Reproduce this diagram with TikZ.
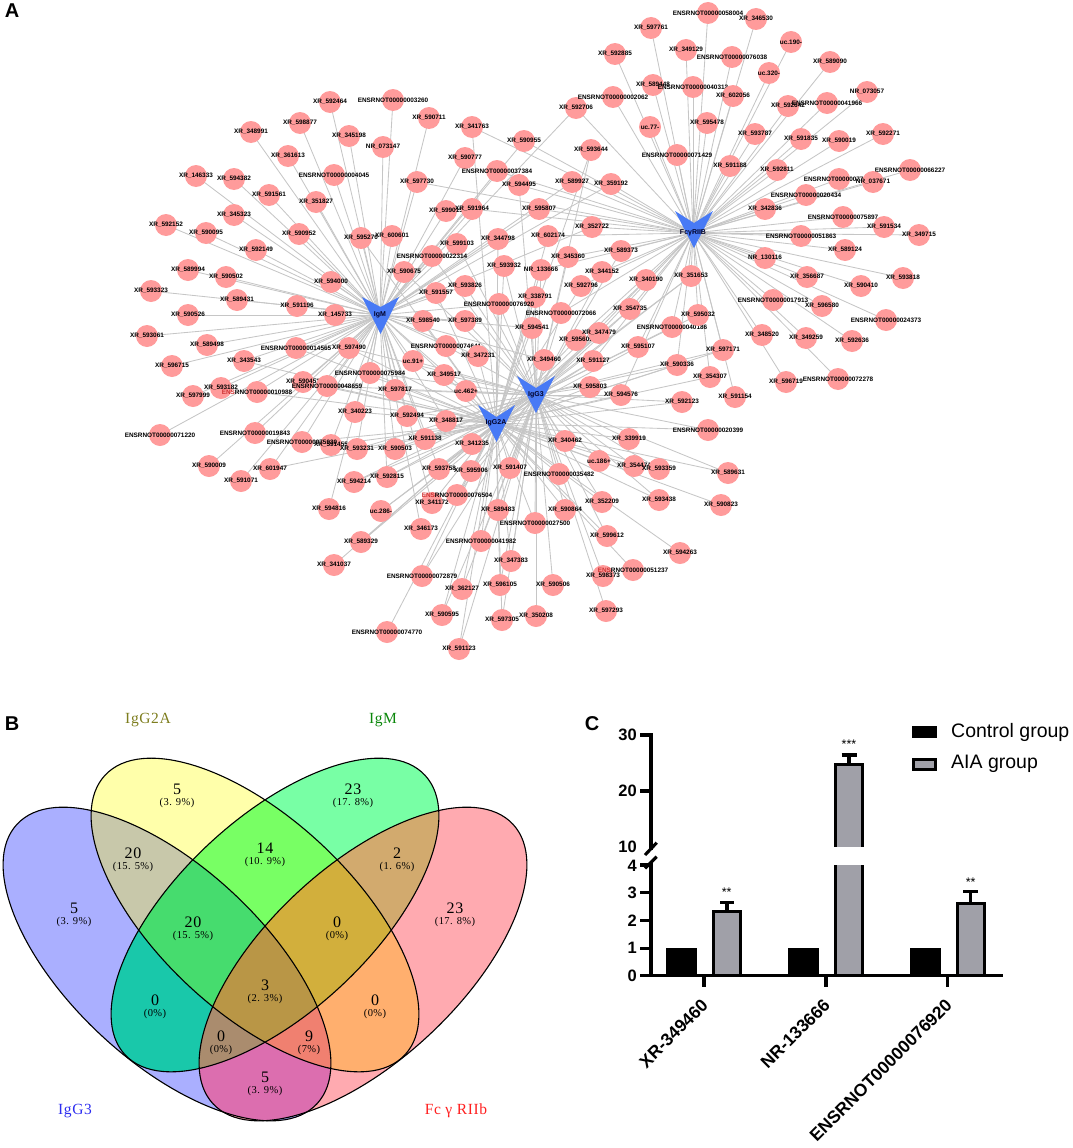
\documentclass[tikz,border=0pt]{standalone}
\usepackage{fontspec}
\setmainfont{Liberation Sans}
\newfontfamily\vennfont[LetterSpace=4]{Liberation Serif}
\pgfdeclarelayer{edgelayer}
\pgfdeclarelayer{hublayer}
\pgfsetlayers{edgelayer,main,hublayer}
\definecolor{pnfill}{RGB}{255,155,155}
\definecolor{edgec}{RGB}{198,198,198}
\definecolor{hubc}{RGB}{72,122,245}
\definecolor{enred}{RGB}{205,50,50}
\definecolor{barg}{RGB}{160,160,168}
\definecolor{vnolive}{RGB}{125,125,30}
\definecolor{vngreen}{RGB}{10,135,10}
\definecolor{vnblue}{RGB}{45,45,240}
\definecolor{vnred}{RGB}{255,30,30}
\newcount\pncount
\tikzset{
 pnode/.style={circle,fill=pnfill,minimum size=22pt,inner sep=0pt},
 plabel/.style={inner sep=0pt,font=\fontsize{6.4}{7}\selectfont\bfseries,text=black},
 hublabel/.style={inner sep=0pt,font=\fontsize{7}{8}\selectfont\bfseries,text=black!85!blue},
 edgeline/.style={draw=edgec,line width=0.85pt},
 vnum/.style={inner sep=0pt,font=\fontsize{16}{17}\selectfont\vennfont},
 vpct/.style={inner sep=0pt,font=\fontsize{10.5}{11}\selectfont\vennfont},
 vname/.style={inner sep=0pt,font=\fontsize{15.5}{16}\selectfont\vennfont},
 panel/.style={inner sep=0pt,font=\fontsize{20}{22}\selectfont\bfseries},
 axisline/.style={line width=3.1pt,line cap=butt},
 ticklab/.style={inner sep=0pt,anchor=east,font=\fontsize{16.5}{18}\selectfont\bfseries},
 xlab/.style={inner sep=0pt,anchor=east,rotate=45,font=\fontsize{17.5}{18}\selectfont\bfseries},
 leglab/.style={inner sep=0pt,anchor=west,font=\fontsize{19.5}{21}\selectfont},
 starlab/.style={inner sep=0pt,font=\fontsize{12.5}{13}\selectfont},
}
% pink node: x, y, label, hubs
\newcommand\pn[4]{%
 \global\advance\pncount by 1
 \node[pnode] (n\the\pncount) at (#1,#2) {};
 \node[plabel] (t\the\pncount) at (#1,#2) {#3};
 \begin{pgfonlayer}{edgelayer}
 \foreach \h in {#4} {\draw[edgeline] (n\the\pncount.center) -- (\h.center);}
 \end{pgfonlayer}
}
\newcommand\hubv[6]{% x left,x mid,x right, ytop, ynotch, ybottom
 \fill[hubc] (#1,#4) -- (#2,#5) -- (#3,#4) -- (#2,#6) -- cycle;}
\newcommand\ebl{\clip[shift={(167,964)},rotate=-43] (0,0) ellipse [x radius=205,y radius=97];}
\newcommand\eyl{\clip[shift={(255,915)},rotate=-43] (0,0) ellipse [x radius=205,y radius=97];}
\newcommand\egr{\clip[shift={(275,915)},rotate=43] (0,0) ellipse [x radius=205,y radius=97];}
\newcommand\epk{\clip[shift={(363,964)},rotate=43] (0,0) ellipse [x radius=205,y radius=97];}
\newcommand\reg[1]{\definecolor{regc}{RGB}{#1}\fill[regc] (-10,700) rectangle (560,1148);}
\begin{document}
\begin{tikzpicture}[x=1pt,y=-1pt]
\useasboundingbox (0,0) rectangle (1072,1148);
\node[panel] (pa) at (12,11) {A};
\node[panel] (pb) at (12,724) {B};
\node[panel] (pc) at (592,724) {C};
% hubs
\begin{pgfonlayer}{hublayer}
\hubv{362}{380.5}{399}{297}{307}{334}
\hubv{675}{694}{713}{211}{223}{248}
\hubv{517}{536}{555}{376}{388}{413}
\hubv{478}{496.5}{515}{405}{417}{442}
\node[hublabel] (M) at (380,315) {IgM};
\node[hublabel] (F) at (693,233) {FcγRIIB};
\node[hublabel] (G) at (536,395) {IgG3};
\node[hublabel] (A) at (496,423) {IgG2A};
\end{pgfonlayer}
% IgM side
\pn{330}{102}{XR\_592464}{M}
\pn{393}{100}{ENSRNOT00000003260}{M}
\pn{300}{123}{XR\_598877}{M}
\pn{349}{136}{XR\_345198}{M}
\pn{251}{132}{XR\_348991}{M}
\pn{383}{147}{NR\_073147}{M}
\pn{288}{156}{XR\_361613}{M}
\pn{334}{175}{ENSRNOT00000004045}{M}
\pn{196}{176}{XR\_146333}{M}
\pn{234}{179}{XR\_594382}{M}
\pn{269}{195}{XR\_591561}{M}
\pn{316}{202}{XR\_351827}{M}
\pn{234}{215}{XR\_345323}{M}
\pn{166}{225}{XR\_592152}{M}
\pn{206}{233}{XR\_590095}{M}
\pn{299}{234}{XR\_590952}{M}
\pn{361}{238}{XR\_595270}{M,A}
\pn{392}{236}{XR\_600601}{M}
\pn{256}{250}{XR\_592149}{M}
\pn{188}{270}{XR\_589994}{M}
\pn{226}{277}{XR\_590502}{M}
\pn{331}{282}{XR\_594000}{M}
\pn{404}{272}{XR\_590675}{M,G}
\pn{151}{291}{XR\_593323}{M}
\pn{237}{300}{XR\_589431}{M}
\pn{297}{306}{XR\_591196}{M}
\pn{188}{315}{XR\_590526}{M}
\pn{335}{315}{XR\_145733}{M}
\pn{147}{336}{XR\_593061}{M}
\pn{207}{345}{XR\_589498}{M}
\pn{296}{348}{ENSRNOT00000014565}{M,A}
\pn{349}{348}{XR\_597490}{M,A,G}
\pn{172}{366}{XR\_596715}{M}
\pn{244}{361}{XR\_343543}{M,A}
\pn{370}{373}{ENSRNOT00000075984}{M,G,A}
\pn{303}{382}{XR\_590451}{M,A}
\pn{327}{386}{ENSRNOT00000048659}{M,G,A}
\pn{221}{388}{XR\_593182}{M}
\pn{257}{392}{\textcolor{enred}{ENS}RNOT00000010988}{M,A}
\pn{193}{396}{XR\_597999}{M}
\pn{395}{390}{XR\_597817}{M,G,A}
\pn{355}{412}{XR\_340223}{M,A}
\pn{407}{416}{XR\_592494}{M,A,G}
\pn{160}{435}{ENSRNOT00000071220}{M}
\pn{255}{433}{ENSRNOT00000019843}{M}
\pn{331}{445}{XR\_591455}{M,A}
\pn{302}{442}{ENSRNOT00000075930}{M,A}
\pn{357}{449}{XR\_593231}{A,M,G}
\pn{395}{449}{XR\_590503}{M,A,G}
\pn{209}{466}{XR\_590009}{M}
\pn{270}{469}{XR\_601947}{M,A}
\pn{241}{481}{XR\_591071}{M}
\pn{387}{477}{XR\_592815}{M,A,G}
\pn{354}{482}{XR\_594214}{A,G}
\pn{329}{509}{XR\_594816}{M}
\pn{381}{511}{uc.286-}{A,G}
\pn{361}{542}{XR\_589329}{A,G}
\pn{334}{565}{XR\_341037}{A}
% centre top
\pn{429}{118}{XR\_590711}{M}
\pn{472}{127}{XR\_341763}{F,A}
\pn{524}{141}{XR\_590955}{F,M}
\pn{576}{108}{XR\_592706}{M,F}
\pn{613}{97}{ENSRNOT00000002062}{F}
\pn{650}{127}{uc.77-}{F}
\pn{591}{150}{XR\_593644}{G,A}
\pn{465}{158}{XR\_590777}{M}
\pn{497}{171}{ENSRNOT00000037384}{M,F}
\pn{519}{185}{XR\_594495}{G,F}
\pn{572}{182}{XR\_589927}{F,M}
\pn{611}{184}{XR\_359192}{F,M}
\pn{417}{182}{XR\_597730}{M,F}
\pn{539}{209}{XR\_595807}{F,M}
\pn{446}{211}{XR\_599015}{M}
\pn{472}{209}{XR\_591964}{M,F}
\pn{592}{227}{XR\_352722}{F,M}
\pn{548}{236}{XR\_602174}{F,A}
\pn{498}{239}{XR\_344798}{A,M}
\pn{457}{244}{XR\_599103}{M,G}
\pn{621}{251}{XR\_589373}{F,G}
\pn{568}{257}{XR\_345360}{F,G}
\pn{432}{256}{ENSRNOT00000022314}{M,G}
\pn{504}{266}{XR\_593932}{A,G}
\pn{541}{270}{NR\_133666}{F,G,A}
\pn{602}{272}{XR\_344152}{F,G}
\pn{646}{280}{XR\_340190}{F,G,A}
\pn{691}{276}{XR\_351653}{F,A,G}
\pn{581}{286}{XR\_592796}{F,A}
\pn{465}{286}{XR\_593826}{M,G}
\pn{436}{293}{XR\_591557}{M,A}
\pn{535}{297}{XR\_338791}{G,A}
\pn{499}{304}{ENSRNOT00000076920}{M,G,A}
\pn{630}{309}{XR\_354735}{F,G,A}
\pn{561}{313}{ENSRNOT00000072066}{G,F}
\pn{672}{327}{ENSRNOT00000040186}{F,G}
\pn{698}{315}{XR\_595032}{F,G}
\pn{423}{321}{XR\_598540}{M,A}
\pn{465}{321}{XR\_597389}{M,G}
\pn{532}{328}{XR\_594541}{M,G,A}
\pn{576}{340}{XR\_595609}{F,A}
\pn{599}{333}{XR\_347479}{F,G,A}
\pn{446}{346}{ENSRNOT00000074641}{M,G}
\pn{638}{347}{XR\_595107}{F,A}
\pn{478}{356}{XR\_347231}{A,M}
\pn{544}{360}{XR\_349460}{M,G,A}
\pn{593}{361}{XR\_591127}{G,F,A}
\pn{413}{361}{uc.91+}{M,G,A}
% Fc side
\pn{708}{13}{ENSRNOT00000058004}{F}
\pn{756}{19}{XR\_346530}{F}
\pn{651}{28}{XR\_597761}{F}
\pn{791}{42}{uc.190-}{F}
\pn{615}{54}{XR\_592885}{F}
\pn{686}{50}{XR\_349129}{F}
\pn{732}{57}{ENSRNOT00000076038}{F}
\pn{830}{62}{XR\_589090}{F}
\pn{769}{73}{uc.320-}{F}
\pn{653}{85}{XR\_589448}{F}
\pn{693}{87}{ENSRNOT00000040312}{F}
\pn{733}{96}{XR\_602056}{F}
\pn{867}{92}{NR\_073057}{F}
\pn{788}{106}{XR\_592642}{F}
\pn{827}{103}{ENSRNOT00000041966}{F}
\pn{707}{123}{XR\_595478}{F}
\pn{755}{134}{XR\_593787}{F}
\pn{801}{139}{XR\_591835}{F}
\pn{839}{141}{XR\_590019}{F}
\pn{883}{134}{XR\_592271}{F}
\pn{677}{155}{ENSRNOT00000071429}{F}
\pn{730}{166}{XR\_591188}{F}
\pn{777}{170}{XR\_592811}{F}
\pn{910}{170}{ENSRNOT00000066227}{F}
\pn{839}{179}{ENSRNOT00000077568}{F}
\pn{873}{182}{NR\_037671}{F}
\pn{806}{195}{ENSRNOT00000020434}{F}
\pn{765}{209}{XR\_342836}{F}
\pn{843}{217}{ENSRNOT00000075897}{F}
\pn{884}{227}{XR\_591534}{F}
\pn{919}{235}{XR\_349715}{F}
\pn{801}{236}{ENSRNOT00000051863}{F}
\pn{845}{250}{XR\_589124}{F}
\pn{765}{258}{NR\_130116}{F}
\pn{807}{277}{XR\_356687}{F}
\pn{903}{278}{XR\_593818}{F}
\pn{861}{286}{XR\_590410}{F}
\pn{773}{300}{ENSRNOT00000017913}{F}
\pn{822}{306}{XR\_596580}{F}
\pn{886}{320}{ENSRNOT00000024373}{F}
\pn{762}{335}{XR\_348520}{F}
\pn{806}{338}{XR\_349259}{F}
\pn{852}{341}{XR\_592636}{F}
\pn{723}{350}{XR\_597171}{G,A,F}
\pn{677}{365}{XR\_590336}{G,F,A}
\pn{710}{377}{XR\_354307}{F,A}
\pn{786}{382}{XR\_596719}{F}
\pn{838}{379}{ENSRNOT00000072278}{F}
\pn{735}{397}{XR\_591154}{F}
\pn{621}{395}{XR\_594576}{G,A,F}
% bottom
\pn{444}{375}{XR\_349517}{M,G,A}
\pn{466}{391}{uc.462+}{M,G,A}
\pn{446}{421}{XR\_348817}{A,G,M}
\pn{590}{387}{XR\_595803}{G,A}
\pn{425}{439}{XR\_591138}{A,G,M}
\pn{472}{444}{XR\_341235}{A,G}
\pn{565}{441}{XR\_340462}{A,G}
\pn{629}{439}{XR\_339919}{G,A}
\pn{682}{402}{XR\_592123}{G,A}
\pn{708}{430}{ENSRNOT00000020399}{G,A}
\pn{439}{469}{XR\_593758}{A,G,M}
\pn{471}{471}{XR\_595906}{A,G}
\pn{510}{468}{XR\_591407}{A,G}
\pn{599}{461}{uc.186+}{A,G}
\pn{634}{466}{XR\_354474}{A,G}
\pn{659}{469}{XR\_593359}{A,G}
\pn{728}{473}{XR\_589631}{G,A}
\pn{559}{474}{ENSRNOT00000035482}{G,A}
\pn{432}{503}{XR\_341172}{M,A}
\pn{457}{495}{\textcolor{enred}{ENS}RNOT00000076504}{A,G}
\pn{659}{500}{XR\_593438}{A,G}
\pn{721}{505}{XR\_590823}{A}
\pn{498}{510}{XR\_589483}{A,G}
\pn{565}{510}{XR\_590864}{A,G}
\pn{602}{502}{XR\_352209}{A,G}
\pn{535}{523}{ENSRNOT00000027500}{A,G}
\pn{421}{529}{XR\_346173}{M}
\pn{607}{536}{XR\_599612}{A,G}
\pn{481}{541}{ENSRNOT00000041982}{G,A}
\pn{680}{553}{XR\_594263}{A}
\pn{511}{561}{XR\_347383}{A,G}
\pn{603}{576}{XR\_598373}{G}
\pn{633}{570}{\textcolor{enred}{ENS}RNOT00000051237}{A}
\pn{422}{576}{ENSRNOT00000072879}{A,G}
\pn{500}{585}{XR\_596105}{A,G}
\pn{553}{585}{XR\_590506}{G}
\pn{462}{589}{XR\_362127}{A,G}
\pn{442}{615}{XR\_590595}{A,G}
\pn{536}{616}{XR\_350208}{G}
\pn{502}{620}{XR\_597305}{A,G}
\pn{606}{611}{XR\_597293}{G}
\pn{459}{649}{XR\_591123}{G,A}
\pn{387}{632}{ENSRNOT00000074770}{A}
% Venn regions
\begin{scope}\ebl\reg{170,175,255}\end{scope}
\begin{scope}\eyl\reg{255,255,170}\end{scope}
\begin{scope}\egr\reg{120,255,165}\end{scope}
\begin{scope}\epk\reg{255,170,176}\end{scope}
\begin{scope}\ebl\eyl\reg{200,200,170}\end{scope}
\begin{scope}\eyl\egr\reg{120,255,100}\end{scope}
\begin{scope}\egr\epk\reg{210,170,110}\end{scope}
\begin{scope}\ebl\egr\reg{25,200,170}\end{scope}
\begin{scope}\eyl\epk\reg{255,175,110}\end{scope}
\begin{scope}\ebl\epk\reg{220,110,175}\end{scope}
\begin{scope}\ebl\eyl\egr\reg{70,220,110}\end{scope}
\begin{scope}\eyl\egr\epk\reg{210,175,60}\end{scope}
\begin{scope}\ebl\egr\epk\reg{170,140,110}\end{scope}
\begin{scope}\ebl\eyl\epk\reg{240,128,112}\end{scope}
\begin{scope}\ebl\eyl\egr\epk\reg{185,150,70}\end{scope}
\draw[line width=1.1pt,shift={(167,964)},rotate=-43] (0,0) ellipse [x radius=205,y radius=97];
\draw[line width=1.1pt,shift={(255,915)},rotate=-43] (0,0) ellipse [x radius=205,y radius=97];
\draw[line width=1.1pt,shift={(275,915)},rotate=43] (0,0) ellipse [x radius=205,y radius=97];
\draw[line width=1.1pt,shift={(363,964)},rotate=43] (0,0) ellipse [x radius=205,y radius=97];
\node[vname,text=vnolive] (vn1) at (148,720) {IgG2A};
\node[vname,text=vngreen] (vn2) at (383,720) {IgM};
\node[vname,text=vnblue] (vn3) at (75,1111) {IgG3};
\node[vname,text=vnred] (vn4) at (456,1111) {Fc γ RIIb};
\newcommand\vv[4]{\node[vnum] at (#1,#2) {#3};\node[vpct] at (#1,#2+13.5) {#4};}
\vv{74}{908}{5}{(3. 9\%)}
\vv{133}{853}{20}{(15. 5\%)}
\vv{177}{789}{5}{(3. 9\%)}
\vv{265}{848}{14}{(10. 9\%)}
\vv{353}{789}{23}{(17. 8\%)}
\vv{397}{853}{2}{(1. 6\%)}
\vv{455}{908}{23}{(17. 8\%)}
\vv{193}{922}{20}{(15. 5\%)}
\vv{337}{922}{0}{(0\%)}
\vv{265}{985}{3}{(2. 3\%)}
\vv{155}{1000}{0}{(0\%)}
\vv{375}{1000}{0}{(0\%)}
\vv{221}{1036}{0}{(0\%)}
\vv{309}{1036}{9}{(7\%)}
\vv{265}{1077}{5}{(3. 9\%)}
% Bar chart
\fill (666,948.3) rectangle (696.7,975.7);
\fill (788,948.3) rectangle (818.7,975.7);
\fill (910,948.3) rectangle (940.7,975.7);
\draw[axisline,fill=barg] (713.5,975.7) -- (713.5,911.2) -- (740.8,911.2) -- (740.8,975.7);
\draw[axisline,fill=barg] (957.2,975.7) -- (957.2,903.2) -- (984.2,903.2) -- (984.2,975.7);
\fill[barg] (835.5,764) rectangle (862.8,846.7);
\fill[barg] (835.5,865) rectangle (862.8,975.7);
\draw[axisline] (835.5,846.7) -- (835.5,764.2) -- (862.8,764.2) -- (862.8,846.7);
\draw[axisline] (835.5,865) -- (835.5,975.7);
\draw[axisline] (862.8,865) -- (862.8,975.7);
\draw[axisline] (727,911) -- (727,902.7);
\draw[axisline] (720,902.7) -- (734.3,902.7);
\draw[axisline] (849,764) -- (849,755);
\draw[axisline] (841.7,755) -- (856.7,755);
\draw[axisline] (970.3,903) -- (970.3,891.7);
\draw[axisline] (963.3,891.7) -- (977.7,891.7);
\node[starlab] (s1) at (726.7,892) {**};
\node[starlab] (s2) at (849,744) {***};
\node[starlab] (s3) at (970.7,882) {**};
\draw[axisline] (640,735) -- (651,735) -- (651,850);
\draw[axisline] (640,791) -- (651,791);
\draw[axisline] (645,855) -- (656.7,842.7);
\draw[axisline] (645,868.3) -- (656.7,856.7);
\draw[axisline] (640,865) -- (651,865) -- (651,975.7);
\draw[axisline] (640,892.7) -- (651,892.7);
\draw[axisline] (640,920.3) -- (651,920.3);
\draw[axisline] (640,948.3) -- (651,948.3);
\draw[axisline] (640,975.7) -- (1003,975.7);
\draw[axisline] (704,975.7) -- (704,986.7);
\draw[axisline] (826,975.7) -- (826,986.7);
\draw[axisline] (947.7,975.7) -- (947.7,986.7);
\node[ticklab] at (637,735) {30};
\node[ticklab] at (637,791) {20};
\node[ticklab] at (637,847) {10};
\node[ticklab] at (637,866) {4};
\node[ticklab] at (637,892.7) {3};
\node[ticklab] at (637,920.3) {2};
\node[ticklab] at (637,948.3) {1};
\node[ticklab] at (637,975.7) {0};
\node[xlab] at (705,1002) {XR-349460};
\node[xlab] at (827,1002) {NR-133666};
\node[xlab] at (949,1002) {ENSRNOT00000076920};
\fill (912,726) rectangle (937,738);
\draw[axisline,fill=barg] (913.5,759.2) rectangle (935.5,769.8);
\node[leglab] (l1) at (951,732) {Control group};
\node[leglab] (l2) at (951,764) {AIA group};
\end{tikzpicture}
\end{document}
